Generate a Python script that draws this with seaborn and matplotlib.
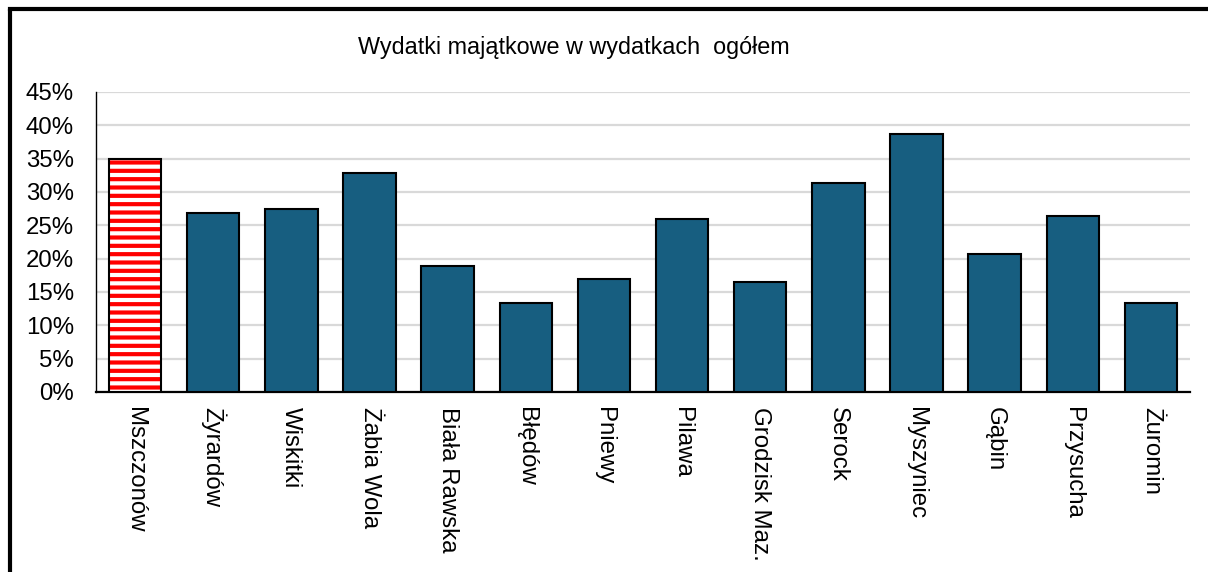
import matplotlib
matplotlib.use("Agg")
import matplotlib.pyplot as plt
import seaborn as sns
from matplotlib.lines import Line2D
from matplotlib.patches import Rectangle
from matplotlib.ticker import PercentFormatter

# Data
cities = ["Mszczonów", "Żyrardów", "Wiskitki", "Żabia Wola", "Biała Rawska", "Błędów",
          "Pniewy", "Pilawa", "Grodzisk Maz.", "Serock", "Myszyniec", "Gąbin",
          "Przysucha", "Żuromin"]
share = [0.350, 0.269, 0.275, 0.329, 0.189, 0.133, 0.169, 0.260, 0.165, 0.313,
         0.387, 0.207, 0.264, 0.134]
y_ticks = [0.00, 0.05, 0.10, 0.15, 0.20, 0.25, 0.30, 0.35, 0.40, 0.45]
title = "Wydatki majątkowe w wydatkach  ogółem"

# Style setup (font family set after seaborn so it sticks)
sns.set_style("white")
plt.rcParams['font.family'] = ['Liberation Sans', 'DejaVu Sans']
plt.rcParams['hatch.linewidth'] = 3.0

fig = plt.figure(figsize=(12.08, 5.72), dpi=100)
ax = fig.add_axes([96 / 1208, 1 - 392 / 572, (1190 - 96) / 1208, 300 / 572])

sns.barplot(x=cities, y=share, color="#175e80", saturation=1, width=0.67,
            edgecolor="black", linewidth=1.5, ax=ax, zorder=3)

# Highlight the first bar with red horizontal stripes
first = ax.patches[0]
first.set_facecolor("white")
first.set_hatch("--")
if hasattr(first, "set_hatchcolor"):
    first.set_hatchcolor("red")
    first.set_edgecolor("black")
else:
    first.set_edgecolor("red")
    first.set_linewidth(0)
    ax.add_patch(Rectangle((first.get_x(), first.get_y()), first.get_width(),
                           first.get_height(), fill=False, edgecolor="black",
                           linewidth=1.5, zorder=4))

ax.set_xlim(-0.5, len(cities) - 0.5)
ax.set_ylim(0, 0.45)
ax.set_yticks(y_ticks)
ax.yaxis.set_major_formatter(PercentFormatter(xmax=1, decimals=0))
ax.grid(axis="y", color="#d9d9d9", linewidth=1.6, zorder=0)
ax.set_axisbelow(True)

for s in ["top", "right"]:
    ax.spines[s].set_visible(False)
ax.spines["left"].set_color("black")
ax.spines["left"].set_linewidth(1.0)
ax.spines["bottom"].set_color("black")
ax.spines["bottom"].set_linewidth(1.6)

ax.tick_params(axis="y", length=0, pad=16, labelsize=17.3, labelcolor="black")
ax.tick_params(axis="x", length=0, pad=11, labelsize=17.3, labelcolor="black")
for lab in ax.get_xticklabels():
    lab.set_rotation(-90)
    lab.set_ha("center")
    lab.set_va("top")

fig.text(573.5 / 1208, 1 - 54 / 572, title, ha="center", va="baseline",
         fontsize=16.8, color="black")

# Chart frame (cropped on the right and bottom in the reference)
fig.add_artist(Line2D([10.3 / 1208, 10.3 / 1208], [0, 1 - 9 / 572],
                      color="black", linewidth=3, transform=fig.transFigure))
fig.add_artist(Line2D([10.3 / 1208, 1], [1 - 9 / 572, 1 - 9 / 572],
                      color="black", linewidth=3, transform=fig.transFigure,
                      solid_capstyle="projecting"))

fig.savefig("out.png", dpi=100)
